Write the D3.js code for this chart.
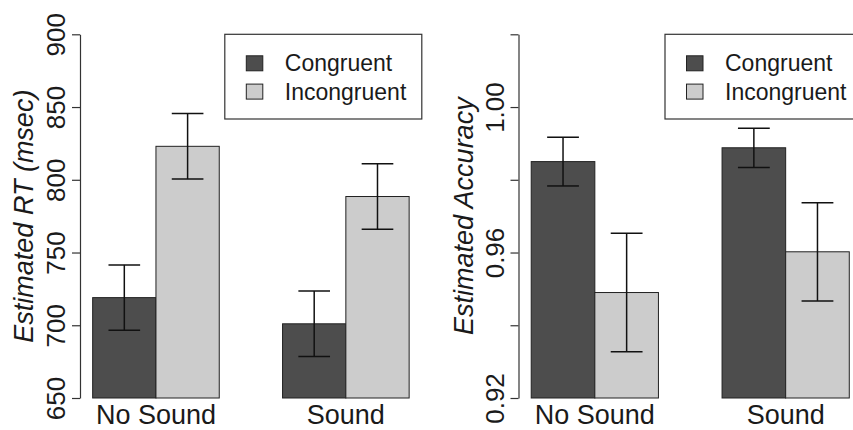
<!DOCTYPE html>
<html>
<head>
<meta charset="utf-8">
<script src="https://cdn.jsdelivr.net/npm/d3@7"></script>
<style>
  body { margin: 0; background: #fff; }
  svg { display: block; font-family: "Liberation Sans", Arial, Helvetica, sans-serif; }
</style>
</head>
<body>
<div id="chart"></div>
<script>
// data
var groups = ["No Sound", "Sound"];
var conditions = ["Congruent", "Incongruent"];

var rtMeans = [[719, 823], [701, 788.5]];
var rtErrors = [[22.5, 22.5], [22.5, 22.5]];
var rtTicks = [650, 700, 750, 800, 850, 900];

var accMeans = [[0.985, 0.949], [0.9888, 0.9602]];
var accErrors = [[0.0067, 0.0163], [0.0054, 0.0135]];
var accTicks = [0.92, 0.94, 0.96, 0.98, 1.00, 1.02];
var accTickLabels = [0.92, 0.96, 1.00];

var fills = ["#4d4d4d", "#cccccc"];

var svgWidth = 853, svgHeight = 430;

var svg = d3.select("#chart")
    .append("svg")
    .attr("width", svgWidth)
    .attr("height", svgHeight);

// draws one barplot panel
function drawPanel(opts) {
    var left = opts.left, right = opts.right, top = 34.3, bottom = 398;

    var g = svg.append("g");

    // groups: bars are 1 unit, gap 1 unit, outer 0.2 unit (like R barplot)
    var x0 = d3.scaleBand()
        .domain(groups)
        .range([left, right])
        .paddingInner(1 / 3)
        .paddingOuter(0.2 / 3);

    var x1 = d3.scaleBand()
        .domain(conditions)
        .range([0, x0.bandwidth()]);

    var y = d3.scaleLinear()
        .domain(opts.domain)
        .range([bottom, top]);

    // bars
    var rows = [];
    groups.forEach(function(grp, i) {
        conditions.forEach(function(c, j) {
            rows.push({ group: grp, cond: c, j: j, v: opts.means[i][j], e: opts.errors[i][j] });
        });
    });

    g.selectAll("rect.bar")
        .data(rows)
        .enter()
        .append("rect")
        .attr("class", "bar")
        .attr("x", d => x0(d.group) + x1(d.cond))
        .attr("y", d => y(d.v))
        .attr("width", x1.bandwidth())
        .attr("height", d => y(opts.domain[0]) - y(d.v))
        .attr("fill", d => fills[d.j])
        .attr("stroke", "#222")
        .attr("stroke-width", 1);

    // error bars
    var cap = x1.bandwidth() / 4;
    var eb = g.selectAll("g.err")
        .data(rows)
        .enter()
        .append("g")
        .attr("class", "err")
        .attr("stroke", "#111")
        .attr("stroke-width", 1.5);

    eb.append("line")
        .attr("x1", d => x0(d.group) + x1(d.cond) + x1.bandwidth() / 2)
        .attr("x2", d => x0(d.group) + x1(d.cond) + x1.bandwidth() / 2)
        .attr("y1", d => y(d.v - d.e))
        .attr("y2", d => y(d.v + d.e));
    eb.append("line")
        .attr("x1", d => x0(d.group) + x1(d.cond) + x1.bandwidth() / 2 - cap)
        .attr("x2", d => x0(d.group) + x1(d.cond) + x1.bandwidth() / 2 + cap)
        .attr("y1", d => y(d.v + d.e))
        .attr("y2", d => y(d.v + d.e));
    eb.append("line")
        .attr("x1", d => x0(d.group) + x1(d.cond) + x1.bandwidth() / 2 - cap)
        .attr("x2", d => x0(d.group) + x1(d.cond) + x1.bandwidth() / 2 + cap)
        .attr("y1", d => y(d.v - d.e))
        .attr("y2", d => y(d.v - d.e));

    // y axis
    var yAxis = d3.axisLeft(y)
        .tickValues(opts.ticks)
        .tickSize(8)
        .tickSizeOuter(0)
        .tickFormat(opts.format);

    var ay = g.append("g")
        .attr("transform", `translate(${left}, 0)`)
        .call(yAxis);
    ay.select(".domain").attr("stroke", "#333").attr("stroke-width", 1.2);
    ay.selectAll(".tick line").attr("stroke", "#333").attr("stroke-width", 1.2);
    ay.selectAll(".tick text")
        .attr("x", 0)
        .attr("dy", 0)
        .attr("transform", "translate(-15,0) rotate(-90)")
        .attr("text-anchor", "middle")
        .attr("fill", "#1a1a1a")
        .style("font-size", "26px")
        .style("font-family", "Liberation Sans, Arial, sans-serif");

    // y title
    g.append("text")
        .attr("transform", `translate(${opts.titleX}, ${(top + bottom) / 2}) rotate(-90)`)
        .attr("text-anchor", "middle")
        .attr("fill", "#1a1a1a")
        .style("font-size", "27px")
        .style("font-style", "italic")
        .text(opts.title);

    // group labels
    g.selectAll("text.grp")
        .data(groups)
        .enter()
        .append("text")
        .attr("class", "grp")
        .attr("x", d => x0(d) + x0.bandwidth() / 2)
        .attr("y", 424)
        .attr("text-anchor", "middle")
        .attr("fill", "#1a1a1a")
        .style("font-size", "27px")
        .text(d => d);

    // legend, top right of the plot region
    var lw = 197, lh = 84.7;
    var lg = g.append("g")
        .attr("transform", `translate(${right - lw}, ${top})`);
    lg.append("rect")
        .attr("width", lw)
        .attr("height", lh)
        .attr("fill", "#fff")
        .attr("stroke", "#333")
        .attr("stroke-width", 1.2);
    var items = lg.selectAll("g.item")
        .data(conditions)
        .enter()
        .append("g")
        .attr("class", "item")
        .attr("transform", (d, i) => `translate(0, ${29 + i * 28.3})`);
    items.append("rect")
        .attr("x", 21.5)
        .attr("y", -7.5)
        .attr("width", 16.5)
        .attr("height", 15)
        .attr("fill", (d, i) => fills[i])
        .attr("stroke", "#222")
        .attr("stroke-width", 1);
    items.append("text")
        .attr("x", 60)
        .attr("y", 8)
        .attr("fill", "#1a1a1a")
        .style("font-size", "23px")
        .text(d => d);
}

drawPanel({
    left: 80, right: 421.8,
    domain: [650, 900],
    means: rtMeans, errors: rtErrors,
    ticks: rtTicks,
    format: d3.format("d"),
    title: "Estimated RT (msec)",
    titleX: 33
});

drawPanel({
    left: 518.5, right: 862,
    domain: [0.92, 1.02],
    means: accMeans, errors: accErrors,
    ticks: accTicks,
    format: function(d) {
        return accTickLabels.some(t => Math.abs(t - d) < 1e-9) ? d3.format(".2f")(d) : "";
    },
    title: "Estimated Accuracy",
    titleX: 473
});
</script>
</body>
</html>
